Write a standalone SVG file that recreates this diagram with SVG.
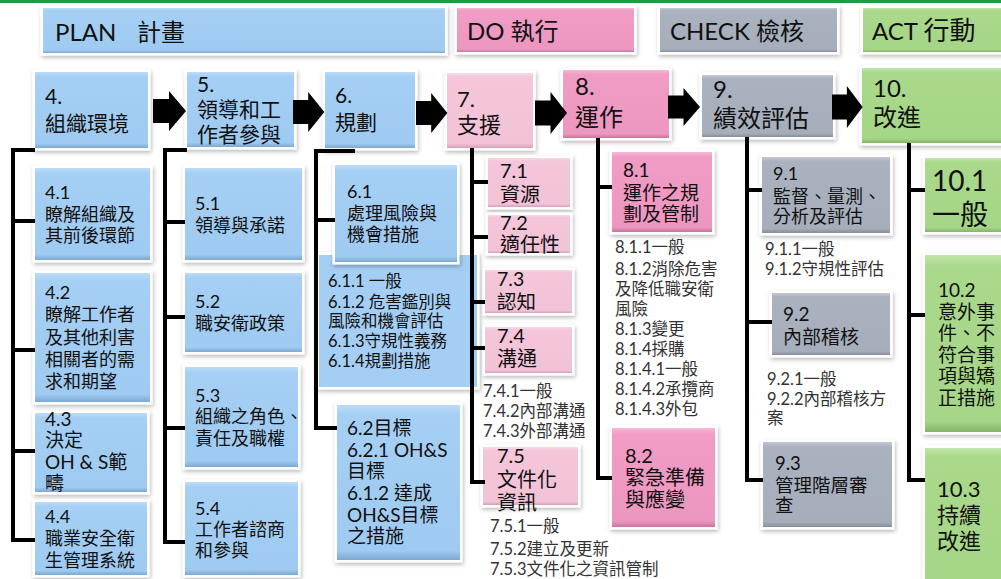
<svg xmlns="http://www.w3.org/2000/svg" width="1001" height="579" viewBox="0 0 1001 579">
<defs>
<style>
.t{font-family:Lato,"Noto Sans CJK TC",sans-serif;fill:#111}
.s{font-family:Lato,"Noto Sans CJK TC",sans-serif;fill:#333;font-size:16.5px}
.bx{stroke:#fff;stroke-width:5;paint-order:stroke;filter:url(#sh)}
.hb{stroke:#fff;stroke-width:5;paint-order:stroke;filter:url(#sh)}
.blue{fill:url(#gB)}
.lp{fill:url(#gL)}
.pk{fill:url(#gP)}
.gr{fill:url(#gG)}
.gn{fill:url(#gN)}
.c{fill:none;stroke:#000;stroke-width:4;stroke-linejoin:miter}
.a{fill:#000}
</style>
<linearGradient id="gB" x1="0" y1="0" x2="0" y2="1"><stop offset="0" stop-color="#bddcf8"/><stop offset="0.06" stop-color="#a5cff4"/><stop offset="0.94" stop-color="#9fcaf1"/><stop offset="1" stop-color="#7ca7ce"/></linearGradient>
<linearGradient id="gL" x1="0" y1="0" x2="0" y2="1"><stop offset="0" stop-color="#f9d8e6"/><stop offset="0.06" stop-color="#f5c6da"/><stop offset="0.94" stop-color="#f2c2d7"/><stop offset="1" stop-color="#d6a0b8"/></linearGradient>
<linearGradient id="gP" x1="0" y1="0" x2="0" y2="1"><stop offset="0" stop-color="#f6b9d6"/><stop offset="0.06" stop-color="#f09cc4"/><stop offset="0.94" stop-color="#ed97c0"/><stop offset="1" stop-color="#c9749d"/></linearGradient>
<linearGradient id="gG" x1="0" y1="0" x2="0" y2="1"><stop offset="0" stop-color="#c3c9d3"/><stop offset="0.06" stop-color="#aab1bf"/><stop offset="0.94" stop-color="#a6adbb"/><stop offset="1" stop-color="#858c9a"/></linearGradient>
<linearGradient id="gN" x1="0" y1="0" x2="0" y2="1"><stop offset="0" stop-color="#c2e6aa"/><stop offset="0.06" stop-color="#aad98c"/><stop offset="0.94" stop-color="#a5d587"/><stop offset="1" stop-color="#84b466"/></linearGradient>
<filter id="sh" x="-15%" y="-15%" width="135%" height="140%"><feDropShadow dx="1" dy="2" stdDeviation="2" flood-color="#000" flood-opacity="0.28"/></filter>
<path id="arr" d="M0,-12 H16 V-20 L33,0 L16,20 V12 H0 Z"/>
</defs>
<rect x="0" y="0" width="1001" height="579" fill="#fff"/>
<rect x="0" y="0" width="1001" height="3" fill="#1f9b40"/>

<g id="header-plan"><rect class="hb blue" x="43" y="8" width="402" height="45"/><text class="t" font-size="24" x="55" y="41">PLAN<tspan x="137">計畫</tspan></text></g>
<g id="header-do"><rect class="hb pk" x="457" y="8" width="177" height="44"/><text class="t" font-size="24" x="467" y="40">DO 執行</text></g>
<g id="header-check"><rect class="hb gr" x="660" y="8" width="177" height="44"/><text class="t" font-size="24" x="670" y="40">CHECK 檢核</text></g>
<g id="header-act"><rect class="hb gn" x="863" y="8" width="150" height="44"/><text class="t" font-size="24" x="872" y="40">ACT <tspan font-size="26">行動</tspan></text></g>

<g id="n4"><rect class="bx blue" x="35" y="72" width="113" height="76"/><text class="t" font-size="21"><tspan x="45" y="104">4.</tspan><tspan x="45" y="131">組織環境</tspan></text></g>
<g id="n5"><rect class="bx blue" x="187" y="72" width="107" height="75"/><text class="t" font-size="21"><tspan x="197" y="92">5.</tspan><tspan x="197" y="117">領導和工</tspan><tspan x="197" y="142">作者參與</tspan></text></g>
<g id="n6"><rect class="bx blue" x="325" y="72" width="90" height="76"/><text class="t" font-size="21"><tspan x="335" y="103">6.</tspan><tspan x="335" y="130">規劃</tspan></text></g>
<g id="n7"><rect class="bx lp" x="447" y="73" width="86" height="75"/><text class="t" font-size="22"><tspan x="457" y="107">7.</tspan><tspan x="457" y="133">支援</tspan></text></g>
<g id="n8"><rect class="bx pk" x="563" y="70" width="106" height="68"/><text class="t" font-size="24"><tspan x="575" y="95">8.</tspan><tspan x="575" y="126">運作</tspan></text></g>
<g id="n9"><rect class="bx gr" x="702" y="75" width="131" height="62"/><text class="t" font-size="24"><tspan x="713" y="98">9.</tspan><tspan x="713" y="127">績效評估</tspan></text></g>
<g id="n10"><rect class="bx gn" x="862" y="68" width="150" height="75"/><text class="t" font-size="24"><tspan x="873" y="97">10.</tspan><tspan x="873" y="126">改進</tspan></text></g>

<g id="n4-1"><rect class="bx blue" x="35" y="168" width="115" height="92"/><text class="t" font-size="18"><tspan x="45" y="199">4.1</tspan><tspan x="45" y="221">瞭解組織及</tspan><tspan x="45" y="242">其前後環節</tspan></text></g>
<g id="n4-2"><rect class="bx blue" x="35" y="273" width="115" height="129"/><text class="t" font-size="18"><tspan x="45" y="299">4.2</tspan><tspan x="45" y="321">瞭解工作者</tspan><tspan x="45" y="344">及其他利害</tspan><tspan x="45" y="366">相關者的需</tspan><tspan x="45" y="388">求和期望</tspan></text></g>
<g id="n4-3"><rect class="bx blue" x="35" y="413" width="112" height="79"/><text class="t" font-size="19"><tspan x="45" y="426">4.3</tspan><tspan x="45" y="447">決定</tspan><tspan x="45" y="469">OH &amp; S範</tspan><tspan x="45" y="490">疇</tspan></text></g>
<g id="n4-4"><rect class="bx blue" x="35" y="502" width="112" height="73"/><text class="t" font-size="18"><tspan x="45" y="523">4.4</tspan><tspan x="45" y="545">職業安全衛</tspan><tspan x="45" y="567">生管理系統</tspan></text></g>

<g id="n5-1"><rect class="bx blue" x="185" y="168" width="117" height="92"/><text class="t" font-size="18"><tspan x="195" y="210">5.1</tspan><tspan x="195" y="232">領導與承諾</tspan></text></g>
<g id="n5-2"><rect class="bx blue" x="185" y="273" width="117" height="79"/><text class="t" font-size="18"><tspan x="195" y="308">5.2</tspan><tspan x="195" y="330">職安衛政策</tspan></text></g>
<g id="n5-3"><rect class="bx blue" x="185" y="367" width="113" height="100"/><text class="t" font-size="18"><tspan x="195" y="402">5.3</tspan><tspan x="195" y="423">組織之角色、</tspan><tspan x="195" y="445">責任及職權</tspan></text></g>
<g id="n5-4"><rect class="bx blue" x="185" y="482" width="113" height="93"/><text class="t" font-size="18"><tspan x="195" y="515">5.4</tspan><tspan x="195" y="536">工作者諮商</tspan><tspan x="195" y="557">和參與</tspan></text></g>

<g id="n6-1-x"><rect class="bx" fill="#a4cef3" x="319" y="255" width="158" height="132"/><text class="t" font-size="16.5"><tspan x="328" y="287">6.1.1 一般</tspan><tspan x="328" y="308">6.1.2 危害鑑別與</tspan><tspan x="328" y="327">風險和機會評估</tspan><tspan x="328" y="347">6.1.3守規性義務</tspan><tspan x="328" y="367">6.1.4規劃措施</tspan></text></g>
<g id="n6-1"><rect class="bx blue" x="335" y="165" width="122" height="97"/><text class="t" font-size="18"><tspan x="347" y="198">6.1</tspan><tspan x="347" y="220">處理風險與</tspan><tspan x="347" y="241">機會措施</tspan></text></g>
<g id="n6-2"><rect class="bx blue" x="337" y="405" width="123" height="155"/><text class="t" font-size="19"><tspan x="347" y="435">6.2目標</tspan><tspan x="347" y="457">6.2.1 OH&amp;S</tspan><tspan x="347" y="478">目標</tspan><tspan x="347" y="500">6.1.2 達成</tspan><tspan x="347" y="522">OH&amp;S目標</tspan><tspan x="347" y="543">之措施</tspan></text></g>

<g id="n7-1"><rect class="bx lp" x="488" y="158" width="82" height="49"/><text class="t" font-size="20"><tspan x="500" y="178">7.1</tspan><tspan x="500" y="202">資源</tspan></text></g>
<g id="n7-2"><rect class="bx lp" x="488" y="215" width="82" height="38"/><text class="t" font-size="20"><tspan x="500" y="230">7.2</tspan><tspan x="500" y="252">適任性</tspan></text></g>
<g id="n7-3"><rect class="bx lp" x="485" y="270" width="87" height="43"/><text class="t" font-size="19.5"><tspan x="497" y="286">7.3</tspan><tspan x="497" y="309">認知</tspan></text></g>
<g id="n7-4"><rect class="bx lp" x="485" y="327" width="87" height="46"/><text class="t" font-size="20"><tspan x="497" y="343">7.4</tspan><tspan x="497" y="366">溝通</tspan></text></g>
<g id="t7-4"><text class="s"><tspan x="483" y="397">7.4.1一般</tspan><tspan x="483" y="417">7.4.2內部溝通</tspan><tspan x="483" y="437">7.4.3外部溝通</tspan></text></g>
<g id="n7-5"><rect class="bx lp" x="483" y="447" width="95" height="58"/><text class="t" font-size="20"><tspan x="497" y="463">7.5</tspan><tspan x="497" y="487">文件化</tspan><tspan x="497" y="510">資訊</tspan></text></g>
<g id="t7-5"><text class="s"><tspan x="490" y="532">7.5.1一般</tspan><tspan x="490" y="555">7.5.2建立及更新</tspan><tspan x="490" y="575">7.5.3文件化之資訊管制</tspan></text></g>

<g id="n8-1"><rect class="bx pk" x="612" y="152" width="100" height="80"/><text class="t" font-size="19"><tspan x="623" y="177">8.1</tspan><tspan x="623" y="200">運作之規</tspan><tspan x="623" y="221">劃及管制</tspan></text></g>
<g id="t8-1"><text class="s"><tspan x="615" y="253">8.1.1一般</tspan><tspan x="615" y="275">8.1.2消除危害</tspan><tspan x="615" y="295">及降低職安衛</tspan><tspan x="615" y="315">風險</tspan><tspan x="615" y="335">8.1.3變更</tspan><tspan x="615" y="355">8.1.4採購</tspan><tspan x="615" y="375">8.1.4.1一般</tspan><tspan x="615" y="395">8.1.4.2承攬商</tspan><tspan x="615" y="415">8.1.4.3外包</tspan></text></g>
<g id="n8-2"><rect class="bx pk" x="612" y="428" width="103" height="99"/><text class="t" font-size="20"><tspan x="625" y="463">8.2</tspan><tspan x="625" y="485">緊急準備</tspan><tspan x="625" y="507">與應變</tspan></text></g>

<g id="n9-1"><rect class="bx gr" x="762" y="157" width="128" height="76"/><text class="t" font-size="18"><tspan x="773" y="180">9.1</tspan><tspan x="773" y="203">監督、量測、</tspan><tspan x="773" y="223">分析及評估</tspan></text></g>
<g id="t9-1"><text class="s"><tspan x="765" y="255">9.1.1一般</tspan><tspan x="765" y="275">9.1.2守規性評估</tspan></text></g>
<g id="n9-2"><rect class="bx gr" x="772" y="293" width="118" height="62"/><text class="t" font-size="19"><tspan x="783" y="321">9.2</tspan><tspan x="783" y="344">內部稽核</tspan></text></g>
<g id="t9-2"><text class="s"><tspan x="767" y="385">9.2.1一般</tspan><tspan x="767" y="405">9.2.2內部稽核方</tspan><tspan x="767" y="424">案</tspan></text></g>
<g id="n9-3"><rect class="bx gr" x="763" y="442" width="129" height="85"/><text class="t" font-size="18.5"><tspan x="775" y="470">9.3</tspan><tspan x="775" y="492">管理階層審</tspan><tspan x="775" y="512">查</tspan></text></g>

<g id="n10-1"><rect class="bx gn" x="925" y="158" width="90" height="74"/><text class="t" font-size="28"><tspan x="932" y="191">10.1</tspan><tspan x="932" y="225">一般</tspan></text></g>
<g id="n10-2"><rect class="bx gn" x="925" y="255" width="90" height="177"/><text class="t" font-size="19"><tspan x="938" y="297">10.2</tspan><tspan x="938" y="318.5">意外事</tspan><tspan x="938" y="340">件、不</tspan><tspan x="938" y="361.5">符合事</tspan><tspan x="938" y="383">項與矯</tspan><tspan x="938" y="404.5">正措施</tspan></text></g>
<g id="n10-3"><rect class="bx gn" x="925" y="448" width="90" height="140"/><text class="t" font-size="22"><tspan x="937" y="497">10.3</tspan><tspan x="937" y="523">持續</tspan><tspan x="937" y="549">改進</tspan></text></g>

<g id="connectors">
<path class="c" d="M35,150 H13 V540 H35 M13,221 H35 M13,350 H35 M13,451 H35"/>
<path class="c" d="M187,150 H165 V542 H185 M165,222 H185 M165,317 H185 M165,428 H185"/>
<path class="c" d="M355,151 H316 V428 H337 M316,220 H335"/>
<path class="c" d="M472,148 V482 H485 M472,182 H488 M472,237 H488 M472,302 H485 M472,348 H485"/>
<path class="c" d="M598,138 V478 H612 M598,187 H612"/>
<path class="c" d="M747,137 V480 H763 M747,190 H762 M747,322 H772"/>
<path class="c" d="M909,143 V480 H925 M909,190 H925 M909,315 H925"/>
<use class="a" href="#arr" transform="translate(153,111)"/>
<use class="a" href="#arr" transform="translate(293,112) scale(0.95,1)"/>
<use class="a" href="#arr" transform="translate(416,113) scale(0.95,1)"/>
<use class="a" href="#arr" transform="translate(535,113) scale(0.97,1.05)"/>
<use class="a" href="#arr" transform="translate(668,107) scale(0.97,0.95)"/>
<use class="a" href="#arr" transform="translate(832,107) scale(0.93,1.05)"/>
</g>
</svg>
